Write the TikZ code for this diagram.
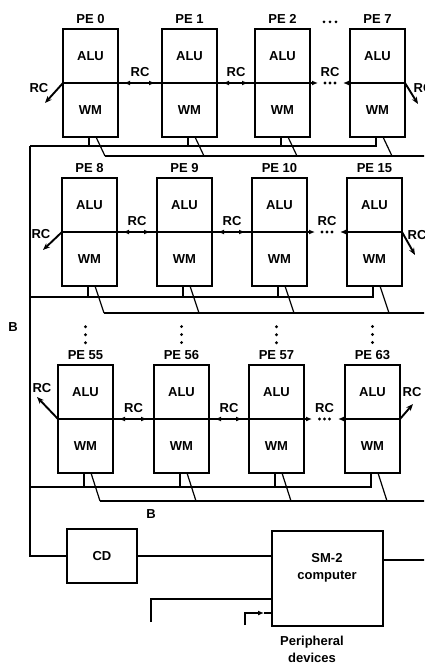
\documentclass[tikz,border=0pt]{standalone}
\usepackage{fontspec}
\setmainfont{Liberation Sans}
\usetikzlibrary{arrows.meta, positioning, calc}

\begin{document}
\begin{tikzpicture}[x=1pt, y=-1pt, line width=1.2pt, font=\fontsize{13}{15}\selectfont\bfseries,
    >={Latex[length=6pt, width=5pt]},
    half/.style={draw, line width=1.5pt, minimum width=55pt, minimum height=54pt, outer sep=0pt, inner sep=0pt},
    pename/.style={above=5pt of #1, inner sep=0pt},
    box/.style={draw, line width=1.5pt, outer sep=0pt},
    rcarrow/.style={line width=1.9pt, -{Stealth[length=7pt, width=5.5pt]}}]
        \useasboundingbox (0,0) rectangle (424,666);
        \clip (0,0) rectangle (424,666);

        % Row 1
        \node[half] (a0) at (90.5,56) {ALU}; \node[half, below=0pt of a0] (w0) {WM}; \node[pename=a0] (n0) {PE 0};
        \node[half] (a1) at (189.5,56) {ALU}; \node[half, below=0pt of a1] (w1) {WM}; \node[pename=a1] (n1) {PE 1};
        \node[half] (a2) at (282.5,56) {ALU}; \node[half, below=0pt of a2] (w2) {WM}; \node[pename=a2] (n2) {PE 2};
        \node[half] (a7) at (377.5,56) {ALU}; \node[half, below=0pt of a7] (w7) {WM}; \node[pename=a7] (n7) {PE 7};
        \foreach \d in {-6,0,6} \fill ($(n2)!0.5!(n7)+(\d,3)$) circle (1.6pt);

        % Row 2
        \node[half] (a8) at (89.5,205) {ALU}; \node[half, below=0pt of a8] (w8) {WM}; \node[pename=a8] (n8) {PE 8};
        \node[half] (a9) at (184.5,205) {ALU}; \node[half, below=0pt of a9] (w9) {WM}; \node[pename=a9] (n9) {PE 9};
        \node[half] (a10) at (279.5,205) {ALU}; \node[half, below=0pt of a10] (w10) {WM}; \node[pename=a10] (n10) {PE 10};
        \node[half] (a15) at (374.5,205) {ALU}; \node[half, below=0pt of a15] (w15) {WM}; \node[pename=a15] (n15) {PE 15};

        % Row 3
        \node[half] (a55) at (85.5,392) {ALU}; \node[half, below=0pt of a55] (w55) {WM}; \node[pename=a55] (n55) {PE 55};
        \node[half] (a56) at (181.5,392) {ALU}; \node[half, below=0pt of a56] (w56) {WM}; \node[pename=a56] (n56) {PE 56};
        \node[half] (a57) at (276.5,392) {ALU}; \node[half, below=0pt of a57] (w57) {WM}; \node[pename=a57] (n57) {PE 57};
        \node[half] (a63) at (372.5,392) {ALU}; \node[half, below=0pt of a63] (w63) {WM}; \node[pename=a63] (n63) {PE 63};
        \foreach \n in {55,56,57,63} \foreach \d in {7,15,23} \fill ($(n\n.north)+(0,-\d)$) circle (1.6pt);

        % RC links between neighbours
        \foreach \p/\q in {0/1,1/2,8/9,9/10,55/56,56/57} {
            \draw (a\p.south east) -- node[midway, above=6pt, inner sep=0pt] (rc\p) {RC} (a\q.south west);
            \draw[<->, shorten <=6pt, shorten >=7pt] (a\p.south east) -- (a\q.south west);
        }
        \foreach \p/\q in {2/7,10/15,57/63} {
            \path (a\p.south east) -- node[midway, above=6pt, inner sep=0pt] (rc\p) {RC} (a\q.south west);
            \draw[->] (a\p.south east) -- ++(8,0);
            \draw[<-] ($(a\q.south west)+(-7,0)$) -- (a\q.south west);
            \foreach \d in {-5,0,5} \fill ($(a\p.south east)!0.5!(a\q.south west)+(\d,0)$) circle (1.6pt);
        }

        % RC to the outside
        \coordinate (e0) at (45,103); \coordinate (e7) at (418,104);
        \coordinate (e8) at (43,250); \coordinate (e15) at (415,255);
        \coordinate (e55) at (37,397); \coordinate (e63) at (413,404);
        \draw[rcarrow] (a0.south west) -- (e0); \draw[rcarrow] (a7.south east) -- (e7);
        \draw[rcarrow] (a8.south west) -- (e8); \draw[rcarrow] (a15.south east) -- (e15);
        \draw[rcarrow] (a55.south west) -- (e55); \draw[rcarrow] (a63.south east) -- (e63);
        \node[inner sep=0pt] (rcl0) at (39,88) {RC}; \node[inner sep=0pt] (rcr7) at (423,88) {RC};
        \node[inner sep=0pt] (rcl8) at (41,234) {RC}; \node[inner sep=0pt] (rcr15) at (417,235) {RC};
        \node[inner sep=0pt] (rcl55) at (42,388) {RC}; \node[inner sep=0pt] (rcr63) at (412,392) {RC};

        % Buses under each row
        \coordinate (ub1) at (30,146); \coordinate (lb1) at (430,156);
        \coordinate (ub2) at (30,297); \coordinate (lb2) at (430,313);
        \coordinate (ub3) at (30,487); \coordinate (lb3) at (430,501);
        \foreach \n in {0,1,2,7} {\draw ([xshift=26pt]w\n.south west) |- (ub1); \draw ([xshift=33pt]w\n.south west) -- ++(9,19);}
        \foreach \n in {8,9,10,15} {\draw ([xshift=26pt]w\n.south west) |- (ub2); \draw ([xshift=33pt]w\n.south west) -- ++(9,27);}
        \foreach \n in {55,56,57,63} {\draw ([xshift=26pt]w\n.south west) |- (ub3); \draw ([xshift=33pt]w\n.south west) -- ++(9,28);}
        \draw ([xshift=33pt]w0.south west) ++(9,19) -- (lb1);
        \draw ([xshift=33pt]w8.south west) ++(9,27) -- (lb2);
        \draw ([xshift=33pt]w55.south west) ++(9,28) -- (lb3);
        \node[inner sep=0pt] (b1) at (13,327) {B};
        \node[inner sep=0pt] (b2) at (151,514) {B};

        % Control and host
        \node[box, minimum width=70pt, minimum height=54pt] (cd) at (102,556) {CD};
        \node[box, minimum width=111pt, minimum height=95pt] (sm) at (327.5,578.5) {};
        \node[align=center, inner sep=0pt, font=\fontsize{13}{17}\selectfont\bfseries] (smtext) at (327,568) {SM-2\\computer};
        \draw (ub1) |- (cd.west);
        \draw (cd.east) -- (cd.east -| sm.west);
        \coordinate (rt) at (430,560);
        \draw (sm.east |- rt) -- (rt);

        % Peripheral devices
        \coordinate (p1) at (151,622); \coordinate (p2) at (245,625);
        \coordinate (p2t) at (264,613);
        \draw (p1) |- ([yshift=-20.5pt]sm.west);
        \draw[->] (p2) |- (p2t);
        \draw (p2t) -- (p2t -| sm.west);
        \node[align=center, inner sep=0pt, font=\fontsize{13}{17}\selectfont\bfseries] (periph) at (312,649) {Peripheral\\devices};
    \end{tikzpicture}
\end{document}
